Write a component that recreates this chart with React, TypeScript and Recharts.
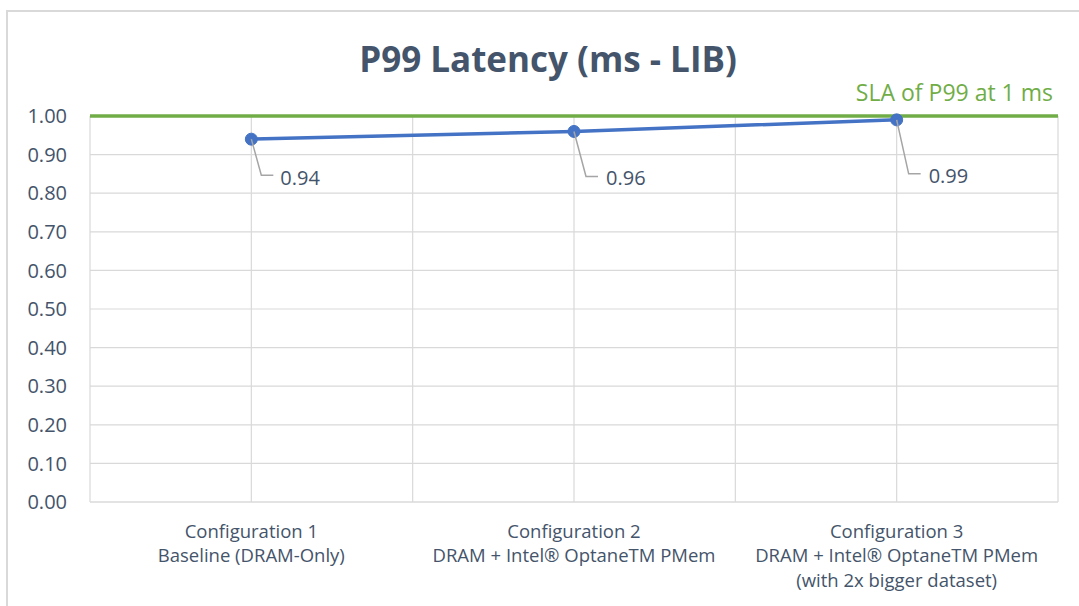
import React from 'react';
import { LineChart, Line, XAxis, YAxis, CartesianGrid, ReferenceLine, LabelList } from 'recharts';

const categories: string[][] = [
  ['Configuration 1', 'Baseline (DRAM-Only)'],
  ['Configuration 2', 'DRAM + Intel® OptaneTM PMem'],
  ['Configuration 3', 'DRAM + Intel® OptaneTM PMem', '(with 2x bigger dataset)'],
];
const categoryPositions = [0.5, 1.5, 2.5];
const latencyValues = [0.94, 0.96, 0.99];
const yTicks = [0, 0.1, 0.2, 0.3, 0.4, 0.5, 0.6, 0.7, 0.8, 0.9, 1.0];
const xGridTicks = [0, 0.5, 1, 1.5, 2, 2.5, 3];
const slaValue = 1;
const slaLabel = 'SLA of P99 at 1 ms';
const title = 'P99 Latency (ms - LIB)';

const data = categoryPositions.map((x, i) => ({ x, value: latencyValues[i] }));

const FONT = '"Open Sans", sans-serif';
const TEXT = '#44546A';

// leader-line offsets (pixels) for each data label
const LEADER = [
  { dx1: 10, dy: 36, dx2: 22, tx: 29, ty: 38 },
  { dx1: 12, dy: 45, dx2: 24, tx: 32, ty: 46 },
  { dx1: 12, dy: 54, dx2: 24, tx: 32, ty: 56 },
];

const XTick = (props: any) => {
  const { x, y, payload } = props;
  const idx = categoryPositions.indexOf(payload.value);
  if (idx < 0) return null;
  const lines = categories[idx];
  return (
    <g>
      {lines.map((l, i) => (
        <text
          key={i}
          x={x}
          y={y + 20 + i * 24.5}
          textAnchor="middle"
          dominantBaseline="central"
          fontFamily={FONT}
          fontSize={18.5}
          fill={TEXT}
        >
          {l}
        </text>
      ))}
    </g>
  );
};

const DataLabel = (props: any) => {
  const { x, y, value, index } = props;
  const o = LEADER[index] || LEADER[0];
  return (
    <g>
      <polyline
        points={`${x},${y} ${x + o.dx1},${y + o.dy} ${x + o.dx2},${y + o.dy}`}
        fill="none"
        stroke="#A5A5A5"
        strokeWidth={1.5}
      />
      <text
        x={x + o.tx}
        y={y + o.ty}
        dominantBaseline="central"
        fontFamily={FONT}
        fontSize={20}
        fill={TEXT}
      >
        {Number(value).toFixed(2)}
      </text>
    </g>
  );
};

const SlaLabel = (props: any) => {
  const { viewBox } = props;
  const vb = viewBox || {};
  const right = (vb.x || 0) + (vb.width || 0);
  return (
    <text
      x={right - 5}
      y={(vb.y || 0) - 15}
      textAnchor="end"
      fontFamily={FONT}
      fontSize={23}
      fill="#70AD47"
    >
      {slaLabel}
    </text>
  );
};

export default function App() {
  return (
    <div
      style={{
        position: 'fixed',
        left: 0,
        top: 0,
        width: 1079,
        height: 606,
        overflow: 'hidden',
        background: '#fff',
      }}
    >
      <div style={{ position: 'absolute', left: 0, top: 0 }}>
        <LineChart
          width={1079}
          height={606}
          data={data}
          margin={{ top: 116, right: 21, bottom: 0, left: 30 }}
        >
          <CartesianGrid stroke="#D9D9D9" strokeWidth={1.2} />
          <XAxis
            dataKey="x"
            type="number"
            domain={[0, 3]}
            ticks={xGridTicks}
            interval={0}
            height={104}
            tick={<XTick />}
            tickLine={false}
            axisLine={{ stroke: '#D9D9D9', strokeWidth: 1.2 }}
          />
          <YAxis
            type="number"
            domain={[0, 1]}
            ticks={yTicks}
            interval={0}
            width={60}
            tickLine={false}
            axisLine={false}
            tickSize={0}
            tickMargin={23}
            tick={{ fontFamily: FONT, fontSize: 20, fill: TEXT }}
            tickFormatter={(v: number) => v.toFixed(2)}
          />
          <ReferenceLine
            y={slaValue}
            stroke="#70AD47"
            strokeWidth={3.5}
            label={<SlaLabel />}
            ifOverflow="visible"
          />
          <Line
            dataKey="value"
            stroke="#4472C4"
            strokeWidth={3.5}
            dot={{ r: 6, fill: '#4472C4', stroke: '#4472C4', strokeWidth: 1 }}
            activeDot={false}
            isAnimationActive={false}
          >
            <LabelList dataKey="value" content={<DataLabel />} />
          </Line>
        </LineChart>
      </div>
      <svg
        width={1079}
        height={606}
        style={{ position: 'absolute', left: 0, top: 0, pointerEvents: 'none' }}
      >
        <line x1={6} y1={11} x2={1079} y2={11} stroke="#D9D9D9" strokeWidth={2} />
        <line x1={7} y1={10} x2={7} y2={606} stroke="#D9D9D9" strokeWidth={2} />
        <text
          x={548}
          y={72}
          textAnchor="middle"
          fontFamily={FONT}
          fontWeight={700}
          fontSize={35}
          fill={TEXT}
        >
          {title}
        </text>
      </svg>
    </div>
  );
}
